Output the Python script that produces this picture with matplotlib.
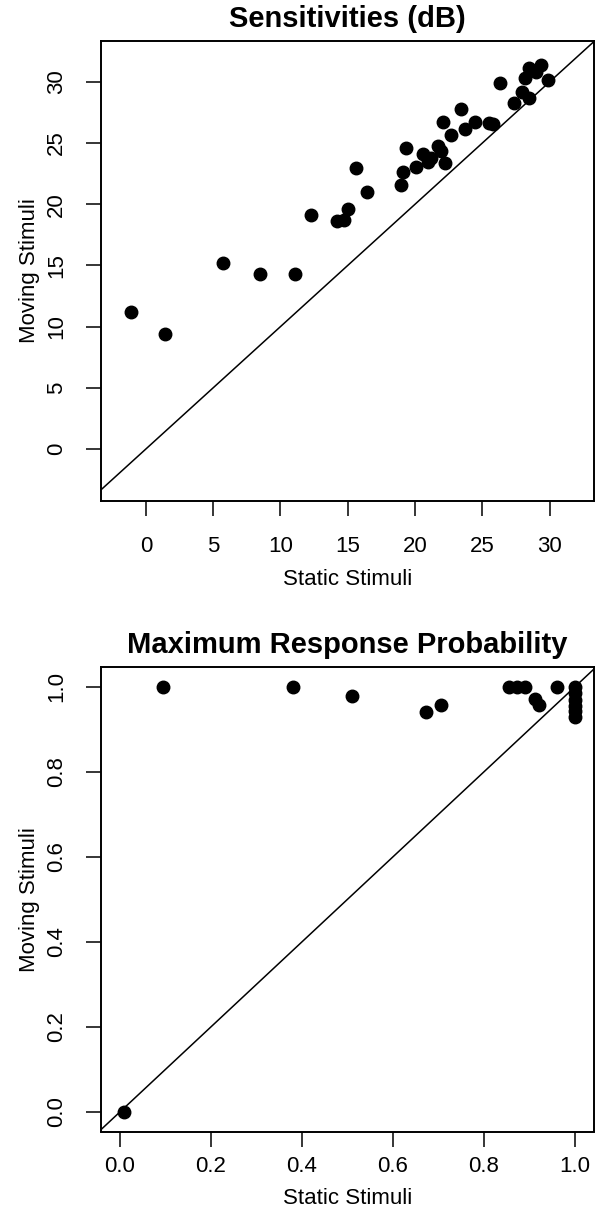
import matplotlib
matplotlib.use("Agg")
import matplotlib.pyplot as plt

plt.rcParams['font.family'] = ['Liberation Sans', 'DejaVu Sans']

# Sensitivities (dB): static vs moving stimuli
sens_static = [12.25, 14.18, 14.74, 15.04, 15.59, 16.4, 18.99, 19.1, 19.31, 20.1,
               20.6, 20.96, 21.2, 21.7, 21.96, 22.2, 22.07, 22.64, 23.44, 23.68,
               24.42, 25.48, 25.78, 26.35, 27.39, 27.96, 28.5, 28.2, 28.44, 29.0,
               29.36, 29.85, -1.08, 1.41, 5.7, 8.5, 11.09]
sens_moving = [19.1, 18.64, 18.7, 19.6, 23.0, 20.96, 21.6, 22.65, 24.6, 23.06,
               24.07, 23.47, 23.74, 24.77, 24.37, 23.33, 26.69, 25.62, 27.78, 26.11,
               26.74, 26.66, 26.55, 29.88, 28.24, 29.19, 28.7, 30.34, 31.1, 30.83,
               31.37, 30.15, 11.2, 9.43, 15.2, 14.26, 14.26]

# Maximum response probability: static vs moving stimuli
prob_static = [0.008, 0.094, 0.38, 0.51, 0.673, 0.705, 0.855, 0.872, 0.89, 0.912,
               0.922, 0.96, 1.0, 1.0, 1.0, 1.0, 1.0, 1.0]
prob_moving = [0.0, 1.0, 1.0, 0.978, 0.941, 0.957, 1.0, 1.0, 1.0, 0.972,
               0.957, 1.0, 1.0, 0.985, 0.97, 0.955, 0.943, 0.928]

sens_ticks = [0, 5, 10, 15, 20, 25, 30]
prob_ticks = [0.0, 0.2, 0.4, 0.6, 0.8, 1.0]
prob_labels = ["0.0", "0.2", "0.4", "0.6", "0.8", "1.0"]

fig = plt.figure(figsize=(5.95, 12.17), dpi=100)
W, H = 595, 1217


def box(l, t, r, b):
    return [l / W, 1 - b / H, (r - l) / W, (b - t) / H]


def style(ax, title, xpad):
    ax.set_title(title, fontsize=21, fontweight='bold', pad=10)
    ax.set_xlabel("Static Stimuli", fontsize=16, labelpad=8)
    ax.set_ylabel("Moving Stimuli", fontsize=16, labelpad=4)
    ax.tick_params(length=10.5, width=1.1, labelsize=16)
    ax.tick_params(axis='x', pad=xpad)
    ax.tick_params(axis='y', labelrotation=90, pad=14)
    for lab in ax.get_yticklabels():
        lab.set_va('center')
    for s in ax.spines.values():
        s.set_linewidth(1.4)


# top panel
ax1 = fig.add_axes(box(100.8, 41, 594, 501))
ax1.set_xlim(-3.35, 33.3)
ax1.set_ylim(-4.25, 33.34)
ax1.axline((0, 0), slope=1, color='black', lw=1.1)
ax1.plot(sens_static, sens_moving, 'o', color='black', markersize=9, clip_on=False)
ax1.set_xticks(sens_ticks)
ax1.set_yticks(sens_ticks)
style(ax1, "Sensitivities (dB)", 15)

# bottom panel
ax2 = fig.add_axes(box(100.8, 667.3, 594, 1131.5))
ax2.set_xlim(-0.042, 1.042)
ax2.set_ylim(-0.046, 1.046)
ax2.axline((0, 0), slope=1, color='black', lw=1.1)
ax2.plot(prob_static, prob_moving, 'o', color='black', markersize=9, clip_on=False)
ax2.set_xticks(prob_ticks)
ax2.set_xticklabels(prob_labels)
ax2.set_yticks(prob_ticks)
ax2.set_yticklabels(prob_labels)
style(ax2, "Maximum Response Probability", 7)

fig.savefig("out.png", dpi=100)
